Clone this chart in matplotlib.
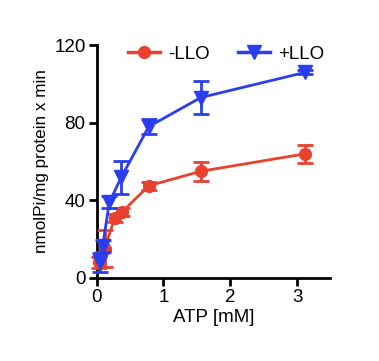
import matplotlib
matplotlib.use("Agg")
import matplotlib.pyplot as plt
from matplotlib.lines import Line2D

plt.rcParams['font.family'] = ['Liberation Sans', 'DejaVu Sans']

atp_minus = [0.04, 0.12, 0.27, 0.38, 0.78, 1.56, 3.125]
minus_llo = [8, 15, 31, 34, 47.5, 55, 64]
minus_err = [3, 9.6, 2, 2, 2, 5, 4.5]
atp_plus = [0.05, 0.09, 0.19, 0.37, 0.78, 1.56, 3.125]
plus_llo = [8, 16.5, 39, 52, 78, 93, 106]
plus_err = [5, 3, 3, 8.5, 4, 8.5, 1]

red = '#e8412f'
blue = '#2a3ef0'

fig = plt.figure(figsize=(3.79, 3.61), dpi=100)
ax = fig.add_axes([0.255, 0.23, 0.617, 0.645])

ax.errorbar(atp_minus, minus_llo, yerr=minus_err, color=red, marker='o', markersize=8.5,
            lw=2, elinewidth=2, capsize=6, capthick=2, clip_on=False, zorder=3)
ax.errorbar(atp_plus, plus_llo, yerr=plus_err, color=blue, marker='v', markersize=9.5,
            lw=2, elinewidth=2, capsize=6, capthick=2, clip_on=False, zorder=4)

ax.set_xlim(0, 3.5)
ax.set_ylim(0, 120)
ax.set_xticks([0, 1, 2, 3])
ax.set_yticks([0, 40, 80, 120])
for s in ['top', 'right']:
    ax.spines[s].set_visible(False)
for s in ['left', 'bottom']:
    ax.spines[s].set_linewidth(2)
ax.tick_params(width=2, length=6, labelsize=13.5, pad=2)
ax.set_xlabel('ATP [mM]', fontsize=13.5, labelpad=2)
ax.set_ylabel('nmolPi/mg protein x min', fontsize=12.3, labelpad=4)

handles = [Line2D([], [], color=red, marker='o', markersize=8.5, lw=2.5),
           Line2D([], [], color=blue, marker='v', markersize=9.5, lw=2.5)]
ax.legend(handles, ['-LLO', '+LLO'], ncol=2, frameon=False, fontsize=13.5, loc='center',
          bbox_to_anchor=(0.555, 0.962), handlelength=1.7, columnspacing=1.5, handletextpad=0.45)

fig.savefig('out.png', dpi=100)
